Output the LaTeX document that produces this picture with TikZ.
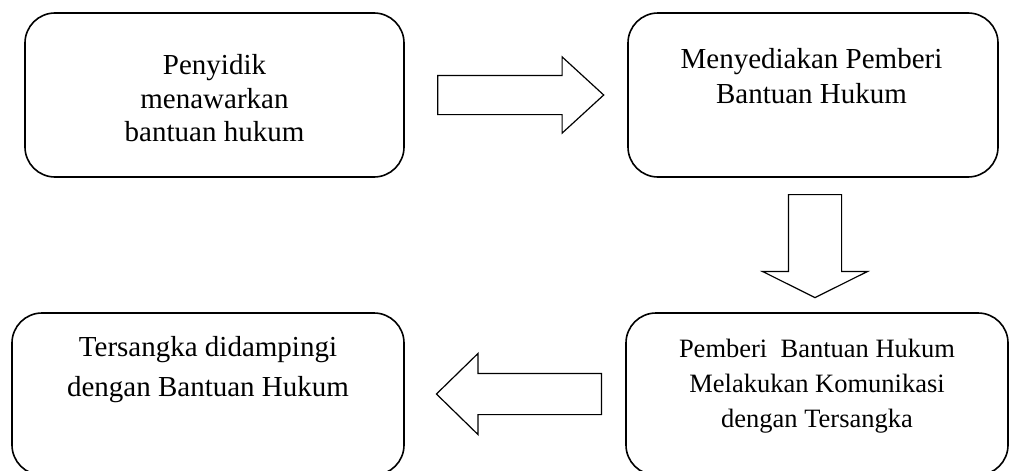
\documentclass[tikz,border=0pt]{standalone}
\usepackage{fontspec}
\setmainfont{Liberation Serif}
\usetikzlibrary{positioning,shapes.arrows}

\begin{document}
\begin{tikzpicture}[x=1pt,y=-1pt,on grid]
            \tikzset{
                langkah/.style={draw, rounded corners=30pt, line width=1.6pt, inner sep=0pt},
                isi/.style={align=center, inner sep=0pt, font=\fontsize{29}{33.6}\selectfont},
                panah/.style={draw, shape=single arrow, line width=1.2pt, single arrow head indent=0pt}
            }

            \useasboundingbox (0,0) rectangle (1009,471);
            \clip (0,0) rectangle (1009,471);

            \node[langkah, minimum width=379pt, minimum height=164pt] (tawar) at (214.5,95) {};
            \node[langkah, minimum width=370pt, minimum height=164pt] (sedia) [right=598.5pt of tawar] {};
            \node[langkah, minimum width=382pt, minimum height=162pt] (komunikasi) [below=299pt of sedia, xshift=4pt] {};
            \node[langkah, minimum width=392pt, minimum height=162pt] (damping) [left=609pt of komunikasi] {};

            \node[isi] (tawar-t) [below=86pt of tawar.north, anchor=center] {Penyidik\\menawarkan\\bantuan hukum};
            \node[isi, font=\fontsize{29}{34.3}\selectfont] (sedia-t) [below=64pt of sedia.north, anchor=center, xshift=-1.5pt] {Menyediakan Pemberi\\Bantuan Hukum};
            \node[isi, font=\fontsize{26.5}{35.3}\selectfont] (komunikasi-t) [below=74pt of komunikasi.north, anchor=center] {Pemberi~~Bantuan Hukum\\Melakukan Komunikasi\\dengan Tersangka};
            \node[isi, font=\fontsize{29}{39.4}\selectfont] (damping-t) [below=57.3pt of damping.north, anchor=center] {Tersangka didampingi\\dengan Bantuan Hukum};

            % panah blok antar langkah
            \node[panah, inner xsep=0pt, inner ysep=19pt, minimum height=166pt, minimum width=75pt, single arrow head extend=18.5pt, single arrow tip angle=85] (p1) [right=295.5pt of tawar] {};
            \node[panah, shape border rotate=270, inner xsep=26pt, inner ysep=0pt, minimum height=103pt, minimum width=104pt, single arrow head extend=26pt, single arrow tip angle=127] (p2) [below=144.5pt of sedia, xshift=2pt] {};
            \node[panah, shape border rotate=180, inner xsep=0pt, inner ysep=20pt, minimum height=165pt, minimum width=80pt, single arrow head extend=20pt, single arrow tip angle=88.6] (p3) [left=287.5pt of komunikasi] {};
        \end{tikzpicture}
\end{document}
